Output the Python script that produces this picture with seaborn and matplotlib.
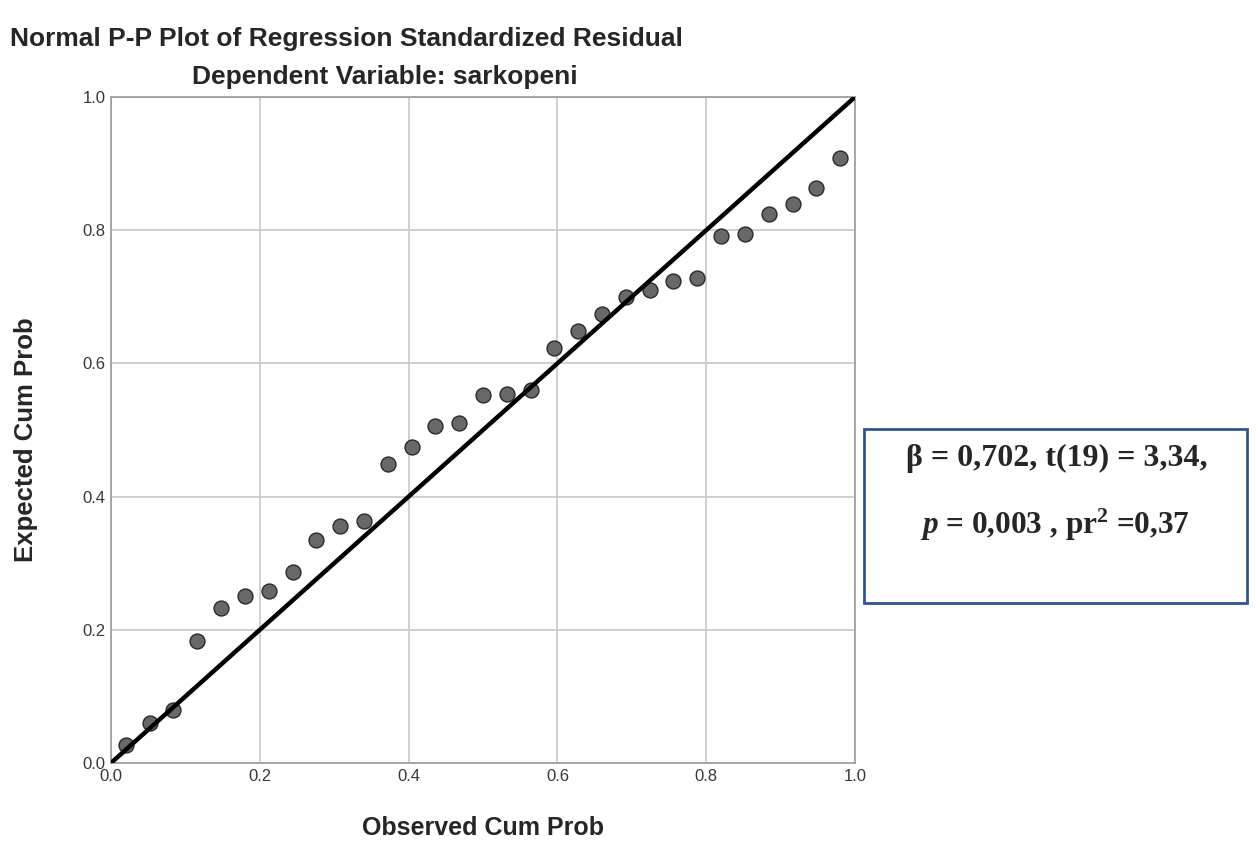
import matplotlib
matplotlib.use('Agg')
import matplotlib.pyplot as plt
import seaborn as sns
import pandas as pd
from matplotlib.patches import Rectangle

# values
observed = [0.020, 0.052, 0.084, 0.116, 0.148, 0.180, 0.212, 0.244, 0.276, 0.308,
            0.340, 0.372, 0.404, 0.436, 0.468, 0.500, 0.532, 0.564, 0.596, 0.628,
            0.660, 0.692, 0.724, 0.756, 0.788, 0.820, 0.852, 0.884, 0.916, 0.948,
            0.980]
expected = [0.027, 0.060, 0.080, 0.183, 0.232, 0.251, 0.258, 0.287, 0.335, 0.356,
            0.363, 0.449, 0.475, 0.506, 0.510, 0.552, 0.554, 0.560, 0.623, 0.648,
            0.674, 0.699, 0.710, 0.723, 0.728, 0.792, 0.795, 0.825, 0.839, 0.863,
            0.909]
ref_line = [0.0, 1.0]
ticks = [0.0, 0.2, 0.4, 0.6, 0.8, 1.0]
tick_labels = ['0.0', '0.2', '0.4', '0.6', '0.8', '1.0']

title = 'Normal P-P Plot of Regression Standardized Residual'
subtitle = 'Dependent Variable: sarkopeni'
stats_line1 = 'β = 0,702, t(19) = 3,34,'
stats_line2 = r'$\mathit{p}$ = 0,003 , pr$^{2}$ =0,37'

sns.set_style('white')
plt.rcParams['font.family'] = ['Liberation Sans', 'DejaVu Sans']
plt.rcParams['mathtext.fontset'] = 'custom'
plt.rcParams['mathtext.rm'] = 'Liberation Serif:bold'
plt.rcParams['mathtext.it'] = 'Liberation Serif:italic:bold'
plt.rcParams['mathtext.bf'] = 'Liberation Serif:bold'

W, H = 1256, 858
fig = plt.figure(figsize=(W / 100, H / 100), dpi=100)
fig.patch.set_facecolor('white')

def fx(px):
    return px / W

def fy(py):
    return 1 - py / H

ax = fig.add_axes([fx(111), fy(763), (855 - 111) / W, (763 - 97) / H])

df = pd.DataFrame({'observed': observed, 'expected': expected})
sns.scatterplot(data=df, x='observed', y='expected', s=115, color='#686868',
                edgecolor='#2a2a2a', linewidth=1.0, ax=ax, zorder=3)
sns.lineplot(x=ref_line, y=ref_line, color='black', linewidth=3.2, ax=ax, zorder=4)

ax.set_xlim(0, 1)
ax.set_ylim(0, 1)
ax.set_xticks(ticks)
ax.set_yticks(ticks)
ax.set_xticklabels(tick_labels)
ax.set_yticklabels(tick_labels)
ax.tick_params(length=0, labelsize=12, labelcolor='#383838', pad=4)
ax.grid(True, color='#cccccc', linewidth=1.3)
ax.set_axisbelow(True)
for sp in ax.spines.values():
    sp.set_color('#a0a0a0')
    sp.set_linewidth(1.3)
ax.set_xlabel('')
ax.set_ylabel('')

# titles and axis titles
fig.text(fx(10), fy(39), title, fontsize=19, fontweight='bold', ha='left', va='center')
fig.text(fx(192), fy(77), subtitle, fontsize=19, fontweight='bold', ha='left', va='center')
fig.text(fx(26), fy(440), 'Expected Cum Prob', fontsize=18.5, fontweight='bold',
         rotation=90, ha='center', va='center')
fig.text(fx(483), fy(828), 'Observed Cum Prob', fontsize=18, fontweight='bold',
         ha='center', va='center')

# annotation box
fig.add_artist(Rectangle((fx(864), fy(603)), (1247 - 864) / W, (603 - 429) / H,
                         transform=fig.transFigure, fill=False,
                         edgecolor='#2f5597', linewidth=2))
fig.text(fx(1057), fy(458), stats_line1, fontsize=23, fontweight='bold',
         family='Liberation Serif', ha='center', va='center')
fig.text(fx(1055), fy(525), stats_line2, fontsize=22.5, fontweight='bold',
         family='Liberation Serif', ha='center', va='center')

fig.savefig('out.png', dpi=100)
